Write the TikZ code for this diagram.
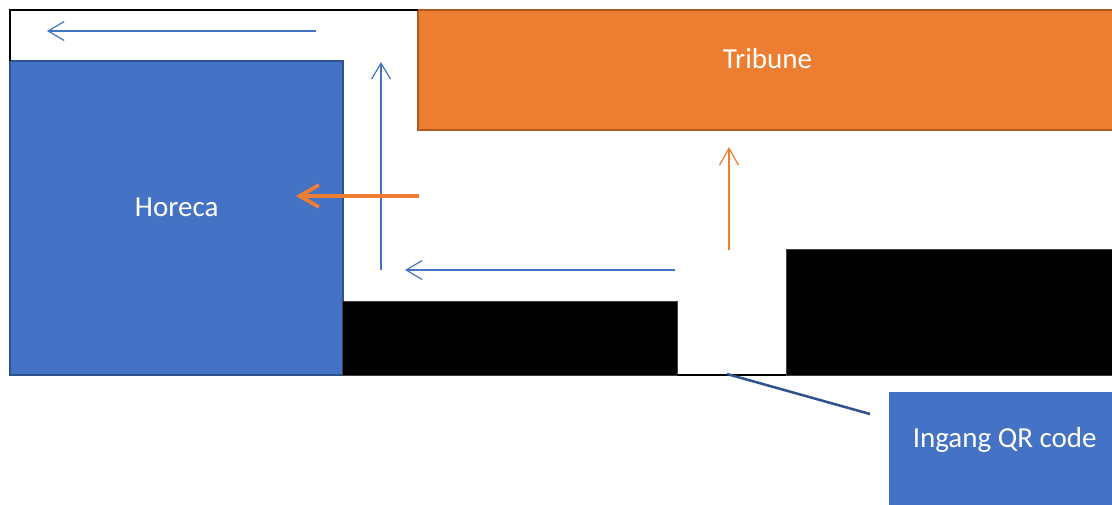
\documentclass[tikz,border=0pt]{standalone}
\usepackage{fontspec}
\setmainfont{Carlito}
\usetikzlibrary{arrows.meta}
\definecolor{accblue}{HTML}{4472C4}
\definecolor{darkblue}{HTML}{2F528F}
\definecolor{accorange}{HTML}{ED7D31}
\definecolor{darkorange}{HTML}{AE5A21}
\begin{document}
\begin{tikzpicture}[x=1pt,y=-1pt,
  box/.style={line width=1.5pt, inner sep=0pt, outer sep=0pt, anchor=north west},
  lbl/.style={text=white, font=\fontsize{29}{35}\selectfont, anchor=base, inner sep=0pt},
  blueflow/.style={draw=accblue, line width=1.2pt, -{Straight Barb[length=16pt,width=19pt,line width=1.2pt]}},
  orangeflow/.style={draw=accorange, line width=1.2pt, -{Straight Barb[length=17pt,width=19pt,line width=1.2pt]}},
  orangethick/.style={draw=accorange, line width=3.8pt, -{Straight Barb[length=19pt,width=22pt,line width=3.8pt]}},
  wall/.style={draw=black, line width=2pt}]
\clip (0,0) rectangle (1112,504);
\fill[white] (0,0) rectangle (1112,504);
% boxes
\node[box, draw=darkblue, fill=accblue, minimum width=333pt, minimum height=314pt] (horeca) at (10,61) {};
\node[box, draw=darkorange, fill=accorange, minimum width=710pt, minimum height=120pt] (tribune) at (418,10) {};
\node[box, draw=black!75, line width=1pt, fill=black, minimum width=335pt, minimum height=74pt] (blockA) at (342,301) {};
\node[box, draw=black!75, line width=1pt, fill=black, minimum width=340pt, minimum height=126pt] (blockB) at (786,249) {};
\node[box, fill=accblue, minimum width=240pt, minimum height=130pt] (qr) at (889,392) {};
% outline walls
\coordinate (corner) at (10,10);
\draw[wall] (tribune.north west) -- (corner) -- (horeca.north west);
\draw[wall] (blockA.south east) -- (blockB.south west);
% labels
\node[lbl] (tribunetxt) at (767.5,68) {Tribune};
\node[lbl] (horecatxt) at (176.7,216.7) {Horeca};
\node[lbl] (qrtxt) at (1004.7,447.7) {Ingang QR code};
% connector to QR label
\coordinate (gate) at (727,374);
\coordinate (qrend) at (870,414);
\draw[darkblue, line width=2.5pt] (gate) -- (qrend);
% flow arrows
\coordinate (t1s) at (316,31);
\coordinate (t1e) at (47,31);
\draw[blueflow] (t1s) -- (t1e);
\coordinate (v1s) at (381,270);
\coordinate (v1e) at (381,62);
\draw[blueflow] (v1s) -- (v1e);
\coordinate (h1s) at (675,270);
\coordinate (h1e) at (405,270);
\draw[blueflow] (h1s) -- (h1e);
\coordinate (o1s) at (729,250);
\coordinate (o1e) at (729,147);
\draw[orangeflow] (o1s) -- (o1e);
\coordinate (o2s) at (419,196);
\coordinate (o2e) at (296,196);
\draw[orangethick] (o2s) -- (o2e);
\end{tikzpicture}
\end{document}
